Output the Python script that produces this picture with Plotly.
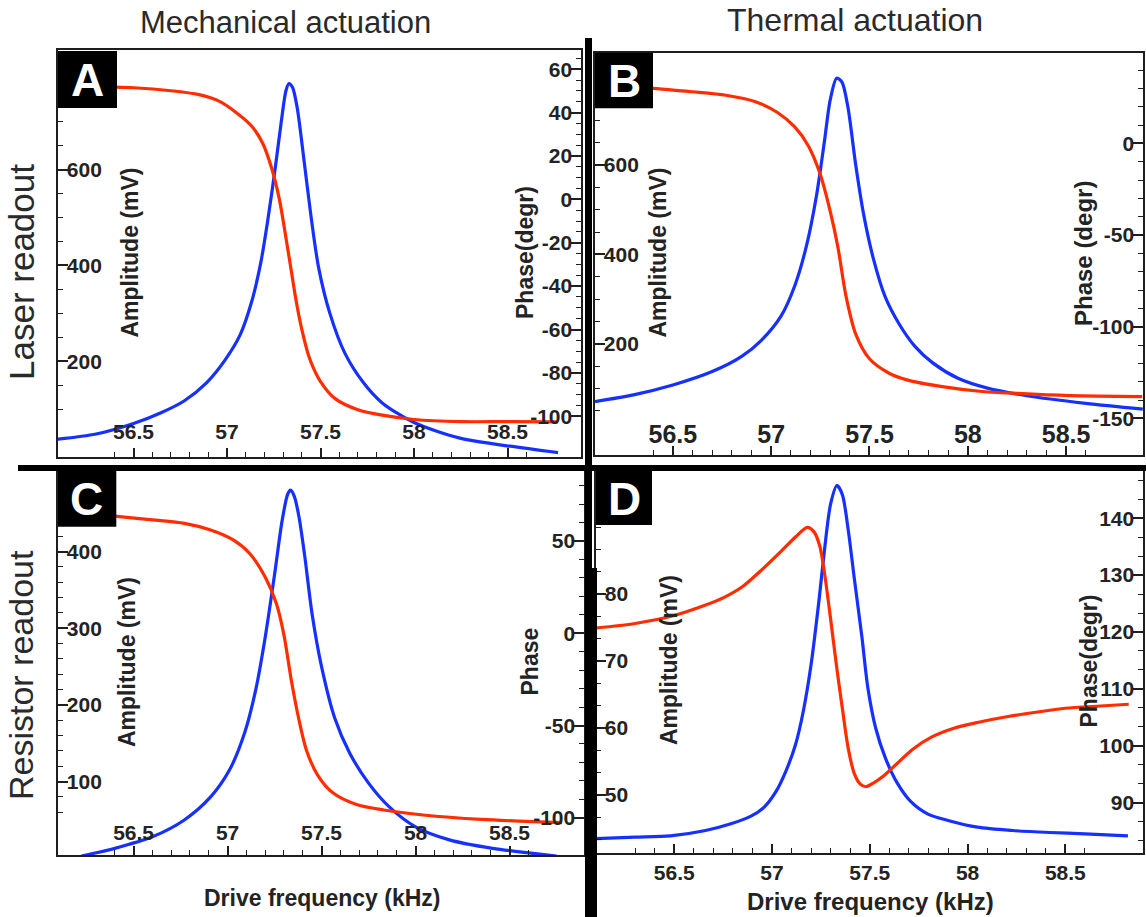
import plotly.graph_objects as go

W, H = 1146, 917

# ---------------- data ----------------
# Panel A: mechanical actuation, laser readout
a_amp_f = [56.09, 56.3, 56.5, 56.65, 56.77, 56.89, 56.99, 57.07, 57.13, 57.18, 57.22, 57.26, 57.29,
           57.315, 57.331, 57.35, 57.375, 57.41, 57.45, 57.49, 57.55, 57.63, 57.73, 57.83, 58.0,
           58.24, 58.45, 58.77]
a_amp = [37, 48, 70, 93, 117, 155, 203, 255, 322, 405, 500, 610, 700, 765, 780, 772, 730, 625, 500,
         395, 300, 217, 155, 113, 72, 40, 26, 9]
a_ph_f = [56.09, 56.3, 56.5, 56.7, 56.85, 56.96, 57.05, 57.13, 57.19, 57.24, 57.28, 57.31, 57.34,
          57.37, 57.40, 57.44, 57.5, 57.58, 57.7, 57.83, 58.0, 58.25, 58.5, 58.77]
a_ph = [53.5, 52.0, 51.5, 50.1, 48.3, 45.2, 40.0, 34.0, 26.0, 14.0, 0.0, -15.0, -31.0, -47.0, -60.0,
        -73.0, -84.0, -92.0, -97.0, -99.5, -101.5, -102.5, -102.5, -102.6]

# Panel B: thermal actuation, laser readout
b_amp_f = [56.104, 56.3, 56.5, 56.7, 56.85, 56.95, 57.05, 57.12, 57.18, 57.23, 57.27, 57.30, 57.333,
           57.36, 57.39, 57.43, 57.47, 57.52, 57.58, 57.65, 57.73, 57.82, 57.95, 58.1, 58.3, 58.6, 58.89]
b_amp = [71, 86, 108, 138, 172, 208, 262, 330, 420, 530, 650, 745, 794, 785, 730, 600, 490, 390, 305,
         245, 195, 158, 123, 101, 84, 67, 54]
b_ph_f = [56.104, 56.4, 56.6, 56.77, 56.92, 57.03, 57.12, 57.19, 57.25, 57.3, 57.34, 57.38, 57.43,
          57.5, 57.6, 57.69, 57.87, 58.06, 58.25, 58.52, 58.887]
b_ph = [33.7, 30.0, 28.2, 26.3, 22.8, 17.0, 9.0, -1.5, -17.0, -37.0, -57.0, -83.0, -104.0, -117.5,
        -125.4, -129.0, -132.7, -135.2, -136.4, -137.6, -138.1]

# Panel C: mechanical actuation, resistor readout
c_amp_f = [56.223, 56.4, 56.6, 56.77, 56.91, 57.01, 57.09, 57.15, 57.2, 57.25, 57.29, 57.32, 57.335,
           57.355, 57.38, 57.41, 57.45, 57.5, 57.57, 57.65, 57.75, 57.86, 58.0, 58.18, 58.41, 58.75]
c_amp = [3, 13, 28, 50, 80, 115, 163, 220, 288, 370, 440, 475, 480, 472, 445, 395, 318, 250, 183,
         137, 98, 67, 41, 24, 13, 3]
c_ph_f = [56.09, 56.4, 56.6, 56.77, 56.91, 57.03, 57.12, 57.2, 57.26, 57.3, 57.34, 57.38, 57.42,
          57.48, 57.56, 57.69, 57.83, 58.04, 58.35, 58.78]
c_ph = [66.0, 63.5, 61.5, 59.6, 56.0, 50.6, 43.0, 30.5, 16.0, -1.0, -26.0, -47.0, -63.5, -77.0,
        -86.5, -93.0, -95.8, -98.5, -100.9, -102.7]

# Panel D: thermal actuation, resistor readout
d_amp_f = [56.1, 56.3, 56.48, 56.66, 56.79, 56.89, 56.96, 57.02, 57.07, 57.12, 57.16, 57.2, 57.24,
           57.27, 57.3, 57.332, 57.36, 57.39, 57.42, 57.46, 57.49, 57.53, 57.58, 57.64, 57.71, 57.8,
           57.9, 58.05, 58.23, 58.42, 58.6, 58.82]
d_amp = [43.5, 43.7, 43.9, 44.7, 45.7, 46.8, 48.2, 50.5, 53.5, 57.5, 62.5, 69.5, 79.0, 87.0, 93.5,
         96.2, 94.8, 89.5, 82.5, 73.5, 66.0, 60.0, 55.5, 51.8, 49.0, 47.1, 46.2, 45.2, 44.7, 44.4,
         44.2, 43.9]
d_ph_f = [56.1, 56.3, 56.5, 56.65, 56.75, 56.85, 56.95, 57.05, 57.12, 57.18, 57.215, 57.245, 57.27,
          57.3, 57.33, 57.36, 57.39, 57.42, 57.45, 57.48, 57.52, 57.57, 57.64, 57.72, 57.82, 57.93,
          58.05, 58.2, 58.35, 58.5, 58.68, 58.824]
d_ph = [120.7, 121.5, 122.9, 124.6, 126.0, 128.0, 131.0, 134.3, 136.7, 138.4, 137.6, 135.0, 130.0,
        122.2, 114.0, 106.5, 99.5, 95.2, 93.3, 92.8, 93.5, 94.7, 96.9, 99.4, 101.6, 103.1, 104.1,
        105.1, 105.9, 106.6, 107.0, 107.3]

freq_ticks = [56.5, 57, 57.5, 58, 58.5]
col_titles = ["Mechanical actuation", "Thermal actuation"]
row_titles = ["Laser readout", "Resistor readout"]
panel_letters = ["A", "B", "C", "D"]

BLUE = "#1530ff"
RED = "#ff2d00"
INK = "#1e1e1e"
TXT = "#232323"
FONT = "Liberation Sans, Arial, sans-serif"


def fx(p):
    return p / W


def fy(p):
    return 1 - p / H


def lab(v):
    return "%g" % v  # plain ASCII hyphen for negatives


fig = go.Figure()

series = [
    (a_amp_f, a_amp, a_ph_f, a_ph, "x", "y", "y2"),
    (b_amp_f, b_amp, b_ph_f, b_ph, "x2", "y3", "y4"),
    (c_amp_f, c_amp, c_ph_f, c_ph, "x3", "y5", "y6"),
    (d_amp_f, d_amp, d_ph_f, d_ph, "x4", "y7", "y8"),
]
for af, av, pf, pv, xa, ya, yb in series:
    fig.add_trace(go.Scatter(x=af, y=av, xaxis=xa, yaxis=ya, mode="lines",
                             line=dict(color=BLUE, width=3.2, shape="spline", smoothing=0.8),
                             hoverinfo="skip"))
    fig.add_trace(go.Scatter(x=pf, y=pv, xaxis=xa, yaxis=yb, mode="lines",
                             line=dict(color=RED, width=3.2, shape="spline", smoothing=0.8),
                             hoverinfo="skip"))


def tickfont(size=21):
    return dict(family=FONT, size=size, color=TXT, weight="bold")


def xaxis(dom, rng, anchor, fsize=21, labelpos="inside", standoff=0):
    return dict(domain=[fx(dom[0]), fx(dom[1])], range=list(rng), anchor=anchor,
                showline=True, mirror=True,
                linecolor=INK, linewidth=2, showgrid=False, zeroline=False,
                ticks="inside", ticklen=9, tickwidth=1.5, tickcolor=INK,
                tickvals=freq_ticks, ticktext=[lab(v) for v in freq_ticks],
                ticklabelposition=labelpos, ticklabelstandoff=standoff, tickfont=tickfont(fsize),
                minor=dict(ticks="inside", ticklen=5, tickwidth=1.2, tickcolor=INK, dtick=0.1, tick0=0),
                fixedrange=True)


def yaxis(dom, rng, tv, mdt, side="left", anchor="x", overlay=None, fsize=21):
    d = dict(domain=[fy(dom[1]), fy(dom[0])], range=list(rng), side=side, anchor=anchor,
             showline=True, linecolor=INK, linewidth=2, showgrid=False, zeroline=False,
             ticks="inside", ticklen=10, tickwidth=1.5, tickcolor=INK,
             tickvals=tv, ticktext=[lab(v) for v in tv],
             ticklabelposition="inside", tickfont=tickfont(fsize),
             minor=dict(ticks="inside", ticklen=5, tickwidth=1.2, tickcolor=INK, dtick=mdt, tick0=0),
             fixedrange=True)
    if overlay:
        d["overlaying"] = overlay
    return d


A = dict(x=(58, 581), y=(50, 457))
B = dict(x=(595, 1143), y=(52.7, 455))
C = dict(x=(58, 584), y=(471, 855))
D = dict(x=(596, 1143), y=(471, 853))

fig.update_layout(
    width=W, height=H, margin=dict(l=0, r=0, t=0, b=0),
    paper_bgcolor="white", plot_bgcolor="white", showlegend=False,
    xaxis=xaxis(A["x"], (56.096, 58.893), "y", standoff=6),
    yaxis=yaxis(A["y"], (0, 850), [200, 400, 600], 50, anchor="x"),
    yaxis2=yaxis(A["y"], (-118.8, 68.9), [-100, -80, -60, -40, -20, 0, 20, 40, 60], 5,
                 side="right", anchor="x", overlay="y"),
    xaxis2=xaxis(B["x"], (56.104, 58.891), "y3", fsize=25),
    yaxis3=yaxis(B["y"], (-48.5, 851), [0, 200, 400, 600], 50, anchor="x2"),
    yaxis4=yaxis(B["y"], (-170, 49.5), [-150, -100, -50, 0], 10, side="right", anchor="x2", overlay="y3"),
    xaxis3=xaxis(C["x"], (56.098, 58.896), "y5", standoff=3),
    yaxis5=yaxis(C["y"], (4.3, 505), [100, 200, 300, 400], 20, anchor="x3"),
    yaxis6=yaxis(C["y"], (-120.2, 88.0), [-100, -50, 0, 50], 10, side="right", anchor="x3", overlay="y5"),
    xaxis4=xaxis(D["x"], (56.1, 58.897), "y7", labelpos="outside", standoff=0),
    yaxis7=yaxis(D["y"], (41.34, 98.36), [50, 60, 70, 80], 10 / 3, anchor="x4"),
    yaxis8=yaxis(D["y"], (81.16, 148.3), [90, 100, 110, 120, 130, 140], 10 / 3, side="right",
                 anchor="x4", overlay="y7"),
)

shapes = []
annotations = []


def rect(x0, y0, x1, y1, color="black"):
    shapes.append(dict(type="rect", xref="paper", yref="paper", x0=fx(x0), x1=fx(x1), y0=fy(y1),
                       y1=fy(y0), fillcolor=color, line=dict(width=0), layer="above"))


def text(s, x, y, size, angle=0, bold=True, color=TXT):
    annotations.append(dict(text=s, x=fx(x), y=fy(y), xref="paper", yref="paper", showarrow=False,
                            xanchor="center", yanchor="middle", textangle=angle,
                            font=dict(family=FONT, size=size, color=color,
                                      weight="bold" if bold else "normal")))


# separators
rect(18, 465, W, 471)
rect(585, 38, 592, H)
rect(585, 568, 597, H)

# panel letter boxes
boxes = [(58, 51, 117, 108, 87.8, 80), (595, 52.7, 653, 108.3, 624, 81),
         (58, 471, 116.3, 526.7, 86.6, 499), (596, 471, 652, 525, 624, 499)]
for letter, (x0, y0, x1, y1, cx, cy) in zip(panel_letters, boxes):
    rect(x0, y0, x1, y1)
    text(letter, cx, cy, 46, color="white")

# column and row titles
text(col_titles[0], 285, 22, 31, bold=False, color="#2a2a2a")
text(col_titles[1], 855, 20, 32, bold=False, color="#2a2a2a")
text(row_titles[0], 22, 272, 35, angle=-90, bold=False, color="#2a2a2a")
text(row_titles[1], 21, 675, 34, angle=-90, bold=False, color="#2a2a2a")

# axis titles
text("Amplitude (mV)", 129.5, 253, 23, angle=-90)
text("Phase(degr)", 525, 253, 23, angle=-90)
text("Amplitude (mV)", 657.5, 253, 23, angle=-90)
text("Phase (degr)", 1083, 254, 24, angle=-90)
text("Amplitude (mV)", 127, 662, 23, angle=-90)
text("Phase", 529.5, 662, 23, angle=-90)
text("Amplitude (mV)", 669, 660, 23, angle=-90)
text("Phase(degr)", 1088.5, 661, 23, angle=-90)
text("Drive frequency (kHz)", 321.6, 898, 23)
text("Drive frequency (kHz)", 870, 901.7, 24)

fig.update_layout(shapes=shapes, annotations=annotations)
fig.write_html("out.html", config={"displayModeBar": False},
               post_script="document.body.style.margin='0px';")
